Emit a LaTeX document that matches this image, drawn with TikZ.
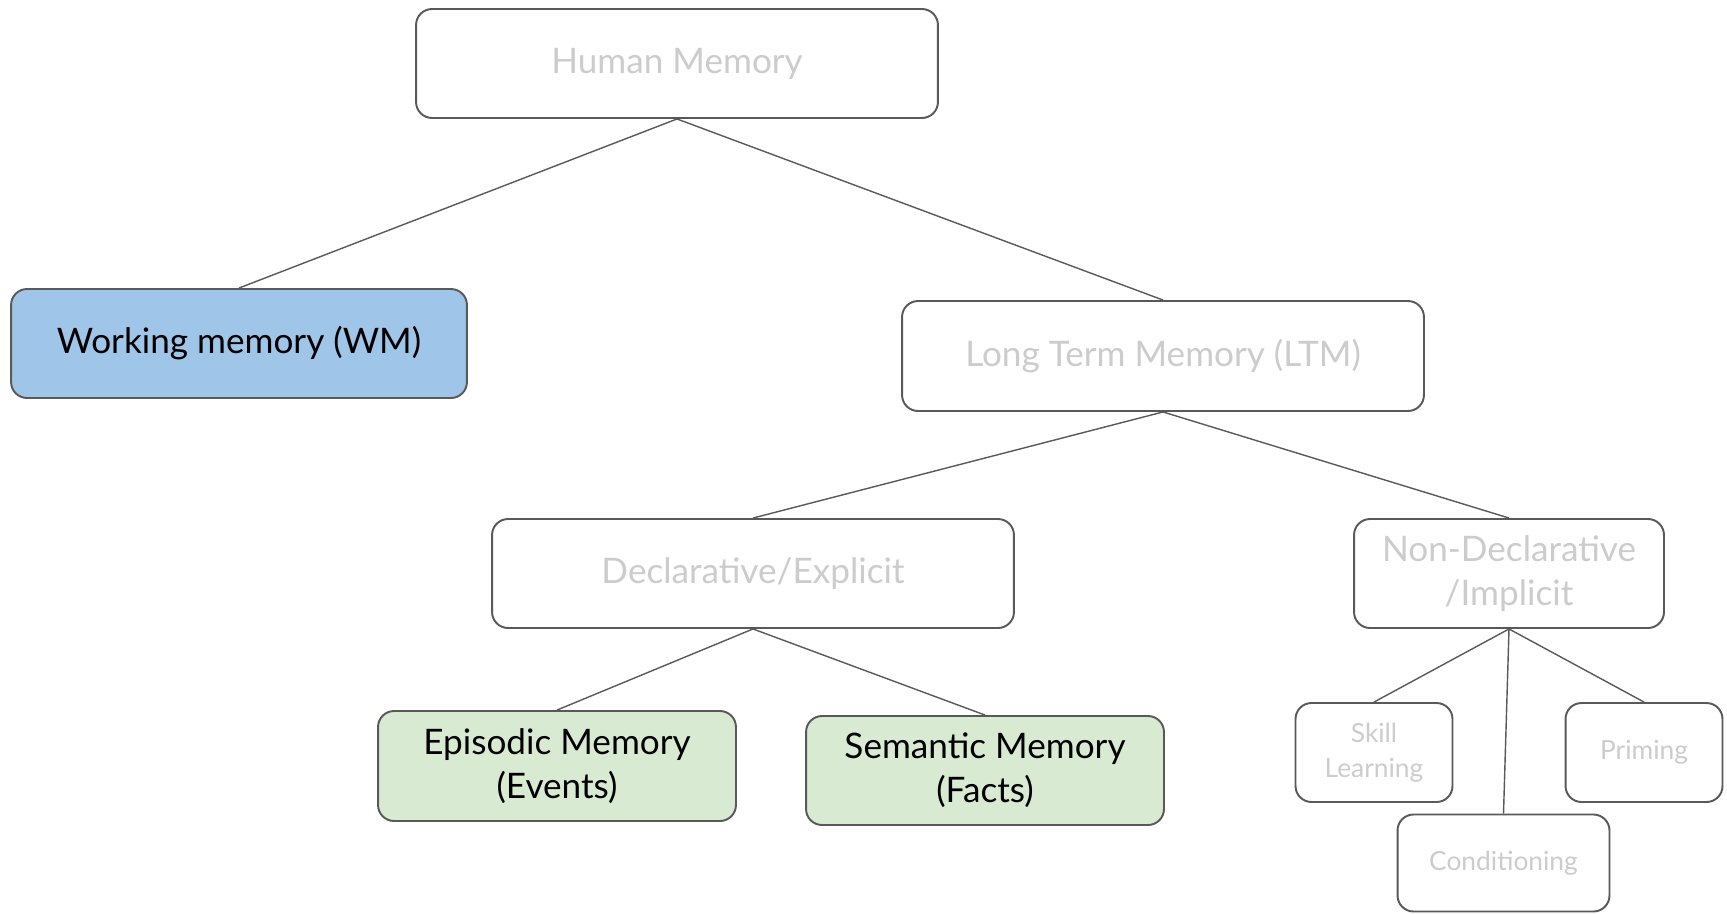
\documentclass[tikz,border=0pt]{standalone}
\usepackage{fontspec}
\setmainfont{Lato}
\usetikzlibrary{positioning}
\definecolor{wmblue}{HTML}{9FC5E8}
\definecolor{factgreen}{HTML}{D9EAD3}
\definecolor{edge}{HTML}{595959}
\definecolor{faint}{HTML}{CCCCCC}
\tikzset{
  memnode/.style={draw=edge,line width=1.1pt,rounded corners=0.32cm,
    align=center,inner sep=0pt,font=\fontsize{20}{25}\selectfont},
  greybox/.style={memnode,fill=white,text=faint},
  smallbox/.style={greybox,font=\fontsize{15}{20}\selectfont},
  link/.style={draw=edge,line width=0.8pt}
}
\begin{document}
\begin{tikzpicture}[x=0.02cm,y=-0.02cm]
\useasboundingbox (0,0) rectangle (1727,913);
% top level
\node[greybox,minimum width=10.44cm,minimum height=2.18cm] (hm) at (677,63.5) {Human Memory};
\node[memnode,fill=wmblue,minimum width=9.12cm,minimum height=2.18cm] (wm) at (239,343.5) {Working memory (WM)};
\node[greybox,minimum width=10.44cm,minimum height=2.2cm] (ltm) at (1163,356) {Long Term Memory (LTM)};
% long term memory
\node[greybox,minimum width=10.44cm,minimum height=2.18cm] (decl) at (753,573.5) {Declarative/Explicit};
\node[greybox,minimum width=6.2cm,minimum height=2.18cm] (nondecl) at (1509,573.5) {Non-Declarative\\/Implicit};
\node[memnode,fill=factgreen,minimum width=7.16cm,minimum height=2.2cm] (epi) at (557,766) {Episodic Memory\\(Events)};
\node[memnode,fill=factgreen,minimum width=7.16cm,minimum height=2.18cm] (sem) at (985,770.5) {Semantic Memory\\(Facts)};
% implicit
\node[smallbox,minimum width=3.14cm,minimum height=1.98cm] (skill) at (1374,752.5) {Skill\\Learning};
\node[smallbox,minimum width=3.14cm,minimum height=1.98cm] (prim) at (1644,752.5) {Priming};
\node[smallbox,minimum width=4.24cm,minimum height=1.94cm] (cond) at (1503.5,863) {Conditioning};

\draw[link] (hm.south)--(wm.north) (hm.south)--(ltm.north);
\draw[link] (ltm.south)--(decl.north) (ltm.south)--(nondecl.north);
\draw[link] (decl.south)--(epi.north) (decl.south)--(sem.north);
\draw[link] (nondecl.south)--(skill.north) (nondecl.south)--(prim.north)
  (nondecl.south)--(cond.north);
\end{tikzpicture}
\end{document}
